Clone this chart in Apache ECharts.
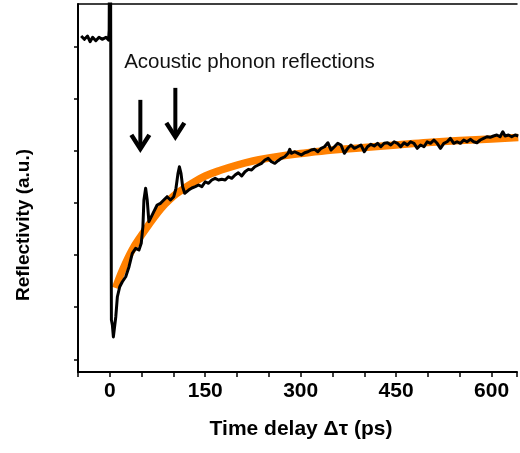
<!DOCTYPE html>
<html><head><meta charset="utf-8">
<script src="https://cdn.jsdelivr.net/npm/echarts@6/dist/echarts.min.js"></script>
<style>html,body{margin:0;padding:0;background:#fff}#c{width:520px;height:453px}</style>
</head><body><div id="c"></div>
<script>
// Measured trace (time delay in ps, reflectivity in a.u.)
const timePs = [-45,-40,-35,-31,-27,-22,-17,-12,-6,-2,-1,0.5,2.5,4,5.6,6.7,9.4,11.9,15.6,19.7,25,30.2,35.3,40.6,45.8,49.4,52,53.6,56.3,58.8,61.4,64.1,69.2,74.4,79.7,84.8,90,95.3,100.5,104,107.2,109.4,111.9,114.5,117.7,123.9,129,134.4,139.5,144.7,150,155.2,160.3,165.6,170.8,176,181.3,186.4,191.6,196.9,202,207.2,212.5,217.7,222.8,228,233.3,238.4,243.8,248.9,254,259.4,264.5,269.7,275,280.2,282.8,285.3,290.6,295.8,301,306.3,311.4,316.6,321.9,327,332.2,337.5,342.7,347.8,353,358.3,363.4,368.6,373.9,379,384.4,389.5,394.7,400,405,410.3,415.6,420.8,426,431.3,436.4,441.6,446.9,452,457.2,462.5,467.7,472.8,478.1,483.3,488.4,493.8,498.9,504,509.4,514.5,519.7,525,530.2,535.3,540.6,545.8,551,556.3,561.4,566.6,571.9,577,582.2,587.5,592.7,597.8,603.1,608.3,613.4,617.7,621.3,626.6,631.7,637,642];
const reflectivity = [7.205,7.142,7.205,7.096,7.180,7.115,7.180,7.142,7.180,7.128,7.32,12,1.754,1.66,1.43,1.434,1.817,2.201,2.393,2.489,2.585,2.777,3.034,3.130,3.098,3.226,3.545,4.057,4.282,4.057,3.641,3.673,3.833,3.961,3.994,4.057,4.121,4.057,4.121,4.282,4.570,4.696,4.570,4.313,4.186,4.249,4.288,4.313,4.345,4.313,4.408,4.378,4.441,4.474,4.441,4.455,4.441,4.504,4.474,4.537,4.581,4.518,4.600,4.646,4.633,4.696,4.729,4.762,4.825,4.858,4.792,4.762,4.812,4.858,4.888,4.954,5.030,4.954,4.984,4.954,4.921,4.965,4.984,5.017,5.030,4.984,5.050,5.080,5.157,5.017,5.080,5.146,5.113,4.954,5.050,5.113,5.050,5.080,5.113,4.984,5.080,5.126,5.094,5.146,5.080,5.146,5.157,5.113,5.176,5.146,5.080,5.157,5.113,5.176,5.146,5.050,5.113,5.080,5.176,5.146,5.209,5.146,5.050,5.146,5.176,5.241,5.146,5.176,5.146,5.209,5.176,5.222,5.176,5.157,5.209,5.241,5.272,5.261,5.286,5.305,5.272,5.368,5.286,5.305,5.272,5.305,5.286];
// Fitted recovery curve
const fitTimePs = [9,20,35,50,61,75,87,100,113,130,150,175,200,225,250,275,300,350,400,450,500,550,600,642];
const fitReflectivity = [2.368,2.714,3.098,3.385,3.577,3.808,3.980,4.134,4.249,4.384,4.518,4.633,4.729,4.806,4.863,4.911,4.950,5.017,5.065,5.113,5.161,5.199,5.228,5.257];
const xTickLabels = [0,150,300,450,600];
const yTickValues = [1,2,3,4,5,6,7];
const annotationText = 'Acoustic phonon reflections';
const arrowTimePs = [48, 103];
const arrowTopValue = [5.98, 6.21];
const arrowTipValue = [5.02, 5.25];
const annotationAnchor = [22.5, 6.70];

const chart = echarts.init(document.getElementById('c'), null, {renderer: 'canvas'});
const FONT = '"Liberation Sans", Arial, sans-serif';
const zip = (a, b) => a.map((v, i) => [v, b[i]]);

chart.setOption({
  animation: false,
  backgroundColor: '#fff',
  grid: {left: 78, right: 0, top: 4, bottom: 81, containLabel: false},
  xAxis: [{
    type: 'value', min: -50, max: 640, interval: 50,
    axisLine: {show: true, onZero: false, lineStyle: {color: '#000', width: 2}},
    axisTick: {show: true, length: 5, lineStyle: {color: '#000', width: 1.5}},
    axisLabel: {
      margin: 9, color: '#000', fontFamily: FONT, fontWeight: 'bold', fontSize: 21,
      formatter: v => (xTickLabels.indexOf(v) >= 0 ? String(v) : '')
    },
    splitLine: {show: false},
    name: 'Time delay Δτ (ps)', nameLocation: 'middle', nameGap: 47,
    nameTextStyle: {color: '#000', fontFamily: FONT, fontWeight: 'bold', fontSize: 21, padding: [0, 0, 0, 7]}
  }, {
    type: 'value', position: 'top', min: -50, max: 640,
    axisLine: {show: true, onZero: false, lineStyle: {color: '#000', width: 1.5}},
    axisTick: {show: false}, axisLabel: {show: false}, splitLine: {show: false}
  }],
  yAxis: {
    type: 'value', min: 0.756, max: 7.82,
    axisLine: {show: true, onZero: false, lineStyle: {color: '#000', width: 2}},
    axisTick: {show: true, length: 4, customValues: yTickValues, lineStyle: {color: '#000', width: 1.5}},
    axisLabel: {show: false},
    splitLine: {show: false}
  },
  series: [{
    type: 'line', data: zip(fitTimePs, fitReflectivity), showSymbol: false, smooth: 0.4,
    lineStyle: {color: '#FF8000', width: 7.5, cap: 'butt'}, z: 2, clip: true
  }, {
    type: 'line', data: zip(timePs, reflectivity), showSymbol: false,
    lineStyle: {color: '#000', width: 3, join: 'round'}, z: 3, clip: true
  }]
});

const px = (t, v) => chart.convertToPixel({gridIndex: 0}, [t, v]);
const graphics = [];
const a = px(annotationAnchor[0], annotationAnchor[1]);
graphics.push({type: 'text', x: a[0], y: a[1], z: 10,
  style: {text: annotationText, font: '20.5px ' + FONT, fill: '#111', textAlign: 'left', textVerticalAlign: 'middle'}});
arrowTimePs.forEach((t, i) => {
  const top = px(t, arrowTopValue[i]);
  const tip = px(t, arrowTipValue[i]);
  graphics.push({type: 'line', z: 10, shape: {x1: top[0], y1: top[1], x2: tip[0], y2: tip[1] - 3},
    style: {stroke: '#000', lineWidth: 4}});
  graphics.push({type: 'polyline', z: 10, shape: {points: [[tip[0] - 9, tip[1] - 15], [tip[0], tip[1] - 1], [tip[0] + 9, tip[1] - 15]]},
    style: {stroke: '#000', lineWidth: 4.5, fill: null, lineJoin: 'miter'}});
});
graphics.push({type: 'text', x: 24, y: 225, rotation: Math.PI / 2, z: 10,
  style: {text: 'Reflectivity (a.u.)', font: 'bold 19px ' + FONT, fill: '#000', textAlign: 'center', textVerticalAlign: 'middle'}});
chart.setOption({graphic: graphics});
</script>
</body></html>
